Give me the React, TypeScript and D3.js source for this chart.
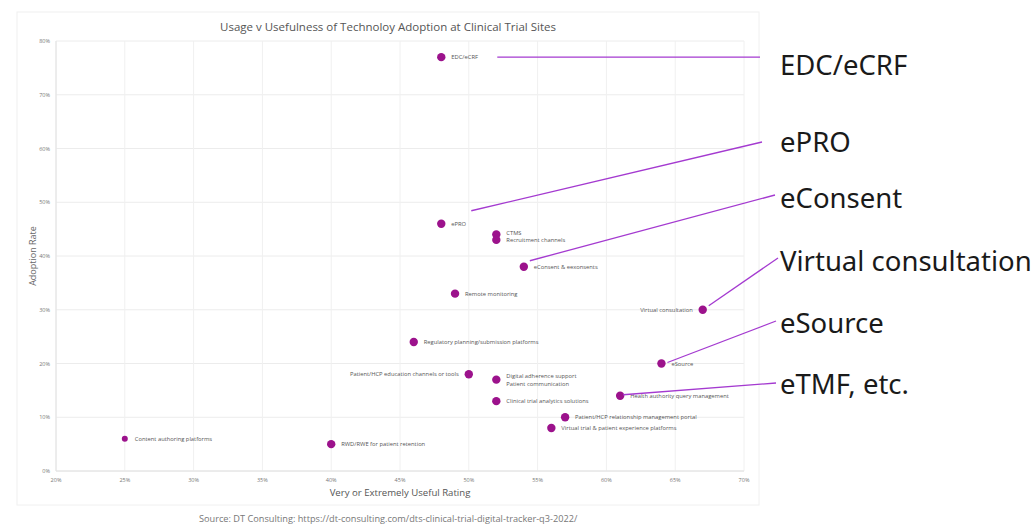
import React from "react";
import * as d3 from "d3";

const labels = [
  "EDC/eCRF", "ePRO", "CTMS", "Recruitment channels", "eConsent & eexonsents", "Remote monitoring",
  "Virtual consultation", "Regulatory planning/submission platforms", "eSource",
  "Patient/HCP education channels or tools", "Digital adherence support", "Patient communication",
  "Health authority query management", "Clinical trial analytics solutions",
  "Patient/HCP relationship management portal", "Virtual trial & patient experience platforms",
  "RWD/RWE for patient retention", "Content authoring platforms",
];
const usefulRating = [48, 48, 52, 52, 54, 49, 67, 46, 64, 50, 52, 52, 61, 52, 57, 56, 40, 25];
const adoptionRate = [77, 46, 44, 43, 38, 33, 30, 24, 20, 18, 17, 17, 14, 13, 10, 8, 5, 6];
// label placement: 1 = right, -1 = left
const labelSide = [1, 1, 1, 1, 1, 1, -1, 1, 1, -1, 1, 1, 1, 1, 1, 1, 1, 1];
const labelDy = [0, 0, -2, 0, 0, 0, 0, 0, 0, 0, -4, 4, 0, 0, 0, 0, 0, 0];

const xTicks = [20, 25, 30, 35, 40, 45, 50, 55, 60, 65, 70];
const yTicks = [0, 10, 20, 30, 40, 50, 60, 70, 80];

const callouts = ["EDC/eCRF", "ePRO", "eConsent", "Virtual consultation", "eSource", "eTMF, etc."];
const calloutY = [66, 143, 199, 262, 324, 385];

export default function App() {
  const W = 1033, H = 526;
  const left = 56, right = 744, top = 41, bottom = 471;
  const x = d3.scaleLinear().domain([20, 70]).range([left, right]);
  const y = d3.scaleLinear().domain([0, 80]).range([bottom, top]);
  const font = "'Open Sans', 'Noto Sans', sans-serif";
  const dotColor = "#9c128c";
  const lineColor = "#a43ad0";

  const lineStarts: [number, number][] = [
    [x(48) + 56, y(77)],
    [x(48) + 30, y(46) - 13],
    [x(54) + 6, y(38) - 6],
    [x(67) + 6, y(30) - 4],
    [x(64) + 6, y(20) - 1],
    [x(61) + 3, y(14) - 1],
  ];
  const lineEnds: [number, number][] = [
    [760, y(77)],
    [762, calloutY[1] - 1],
    [775, calloutY[2] - 4],
    [778, calloutY[3] - 4],
    [776, calloutY[4] - 3],
    [776, calloutY[5] - 2],
  ];

  return (
    <svg width={W} height={H} style={{ display: "block", position: "absolute", left: 0, top: 0 }}>
      <rect x={0} y={0} width={W} height={H} fill="#ffffff" />
      <rect x={17} y={12} width={742} height={493} fill="none" stroke="#f0f0f0" strokeWidth={1} />
      <text x={388} y={31} textAnchor="middle" fontFamily={font} fontSize={11.5} fill="#555">
        Usage v Usefulness of Technoloy Adoption at Clinical Trial Sites
      </text>
      {yTicks.map((t) => (
        <g key={"y" + t}>
          <line x1={left} x2={right} y1={y(t)} y2={y(t)} stroke="#ececec" strokeWidth={1} />
          <text x={50} y={y(t) + 2} textAnchor="end" fontFamily={font} fontSize={5.5} fill="#777">
            {t}%
          </text>
        </g>
      ))}
      {xTicks.map((t) => (
        <g key={"x" + t}>
          <line x1={x(t)} x2={x(t)} y1={top} y2={bottom} stroke="#f0f0f0" strokeWidth={1} />
          <text x={x(t)} y={482} textAnchor="middle" fontFamily={font} fontSize={5.5} fill="#777">
            {t}%
          </text>
        </g>
      ))}
      <line x1={left} x2={left} y1={top} y2={bottom} stroke="#e2e2e2" />
      <line x1={left} x2={right} y1={bottom} y2={bottom} stroke="#e2e2e2" />
      <text x={400} y={496} textAnchor="middle" fontFamily={font} fontSize={9.6} fill="#555">
        Very or Extremely Useful Rating
      </text>
      <text transform={`translate(36,256) rotate(-90)`} textAnchor="middle" fontFamily={font} fontSize={9} fill="#666">
        Adoption Rate
      </text>
      {labels.map((l, i) => {
        if (i === 11) return null;
        const cx = x(usefulRating[i]);
        const cy = y(adoptionRate[i]);
        return <circle key={"c" + i} cx={cx} cy={cy} r={i === 17 ? 3 : 4.2} fill={dotColor} />;
      })}
      {labels.map((l, i) => {
        const cx = x(usefulRating[i]);
        const cy = y(adoptionRate[i]);
        const side = labelSide[i];
        return (
          <text
            key={"t" + i}
            x={cx + side * 10}
            y={cy + 2 + labelDy[i]}
            textAnchor={side > 0 ? "start" : "end"}
            fontFamily={font}
            fontSize={5.8}
            fill="#555"
          >
            {l}
          </text>
        );
      })}
      {callouts.map((c, i) => (
        <g key={"a" + i}>
          <line
            x1={lineStarts[i][0]}
            y1={lineStarts[i][1]}
            x2={lineEnds[i][0]}
            y2={lineEnds[i][1]}
            stroke={lineColor}
            strokeWidth={1.3}
          />
          <text x={780} y={calloutY[i] + 9} fontFamily="'Noto Sans', sans-serif" fontSize={27.5} fill="#1a1a1a">
            {c}
          </text>
        </g>
      ))}
      <text x={199} y={522} fontFamily={font} fontSize={9.2} fill="#777">
        Source: DT Consulting: https://dt-consulting.com/dts-clinical-trial-digital-tracker-q3-2022/
      </text>
    </svg>
  );
}
